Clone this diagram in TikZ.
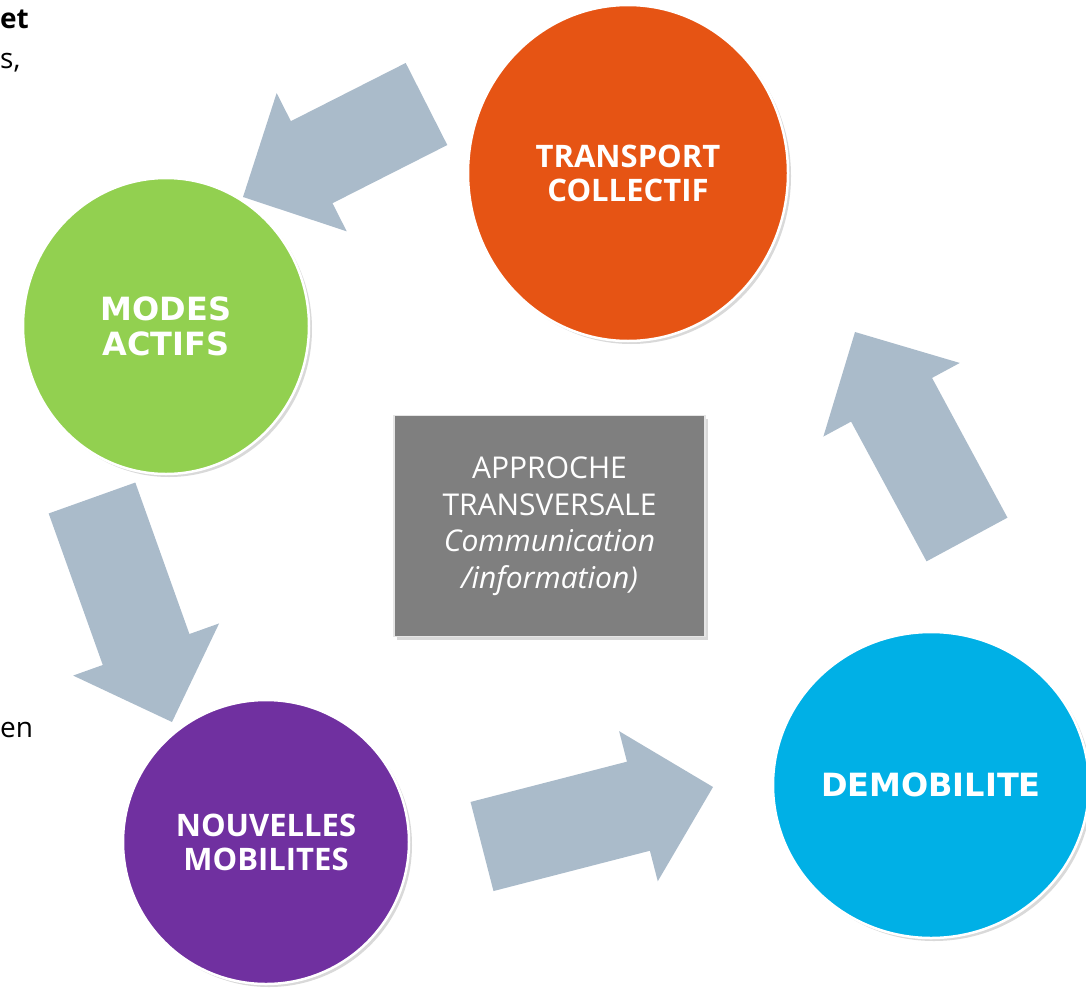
\documentclass[tikz,border=0pt]{standalone}
\usepackage{fontspec}
\setmainfont{Open Sans}
\newfontfamily\verdfont{DejaVu Sans}
\usetikzlibrary{calc,shapes.geometric,shadows,backgrounds}
\definecolor{mobblue}{HTML}{00B0E6}
\definecolor{moborange}{HTML}{E65414}
\definecolor{mobgreen}{HTML}{92D050}
\definecolor{mobpurple}{HTML}{7030A0}
\definecolor{mobgrey}{HTML}{7F7F7F}
\definecolor{mobarrow}{HTML}{AABBCA}
% block arrow from #1 (tail) to #2 (tip)
\newcommand\flowarrow[2]{%
  \coordinate (#1-head) at ($(#2)!77pt!(#1)$);
  \fill[mobarrow] ($(#1)!46pt!90:(#2)$) -- ($(#1-head)!46pt!90:(#2)$)
    -- ($(#1-head)!77.5pt!90:(#2)$) -- (#2)
    -- ($(#1-head)!77.5pt!-90:(#2)$) -- ($(#1-head)!46pt!-90:(#2)$)
    -- ($(#1)!46pt!-90:(#2)$) -- cycle;}

\begin{document}
\begin{tikzpicture}[x=1pt,y=-1pt,
  pole/.style={ellipse,draw=white,line width=2.5pt,inner sep=0pt,
               text=white,align=center,
               drop shadow={shadow xshift=3pt,shadow yshift=-3pt,opacity=.3}},
  segbold/.style={font=\fontsize{31}{34}\selectfont\bfseries},
  verdbold/.style={font=\fontsize{32}{35}\selectfont\verdfont\bfseries},
  frag/.style={anchor=base west,inner sep=0pt,font=\fontsize{28}{40}\selectfont}]
\useasboundingbox (0,0) rectangle (1086,988);
\node[pole,segbold,fill=moborange,minimum width=320pt,minimum height=336pt]
  (tc) at (628,173) {TRANSPORT\\COLLECTIF};
\node[pole,verdbold,fill=mobgreen,minimum width=286pt,minimum height=296pt]
  (ma) at (166,326) {MODES\\ACTIFS};
\node[pole,segbold,fill=mobpurple,minimum width=286pt,minimum height=284pt]
  (nm) at (266,842) {NOUVELLES\\MOBILITES};
\node[pole,verdbold,fill=mobblue,minimum width=316pt,minimum height=306pt]
  (demo) at (931,785) {DEMOBILITE};
\node[draw=white!80!gray,line width=1.5pt,fill=mobgrey,text=white,align=center,
  minimum width=311pt,minimum height=221pt,font=\fontsize{30}{36.5}\selectfont,
  drop shadow={shadow xshift=3pt,shadow yshift=-3pt,opacity=.3}]
  (appr) at (549.5,526)
  {APPROCHE\\TRANSVERSALE\\\textit{Communication}\\\textit{/information)}};
% bits of the surrounding text at the page edge
\node[frag,font=\fontsize{28}{40}\selectfont\bfseries] (frag1) at (0,28) {et};
\node[frag] (frag2) at (0,68) {s,};
\node[frag] (frag3) at (0,737) {en};
\coordinate (tc-out) at (426.5,104);
\coordinate (ma-in) at (243,197);
\coordinate (ma-out) at (92,498);
\coordinate (nm-in) at (172,722);
\coordinate (nm-out) at (482,846.5);
\coordinate (demo-in) at (713,787);
\coordinate (demo-out) at (967,539.5);
\coordinate (tc-in) at (855,332);
\begin{scope}[on background layer]
\flowarrow{tc-out}{ma-in}
\flowarrow{ma-out}{nm-in}
\flowarrow{nm-out}{demo-in}
\flowarrow{demo-out}{tc-in}
\end{scope}
\end{tikzpicture}
\end{document}
